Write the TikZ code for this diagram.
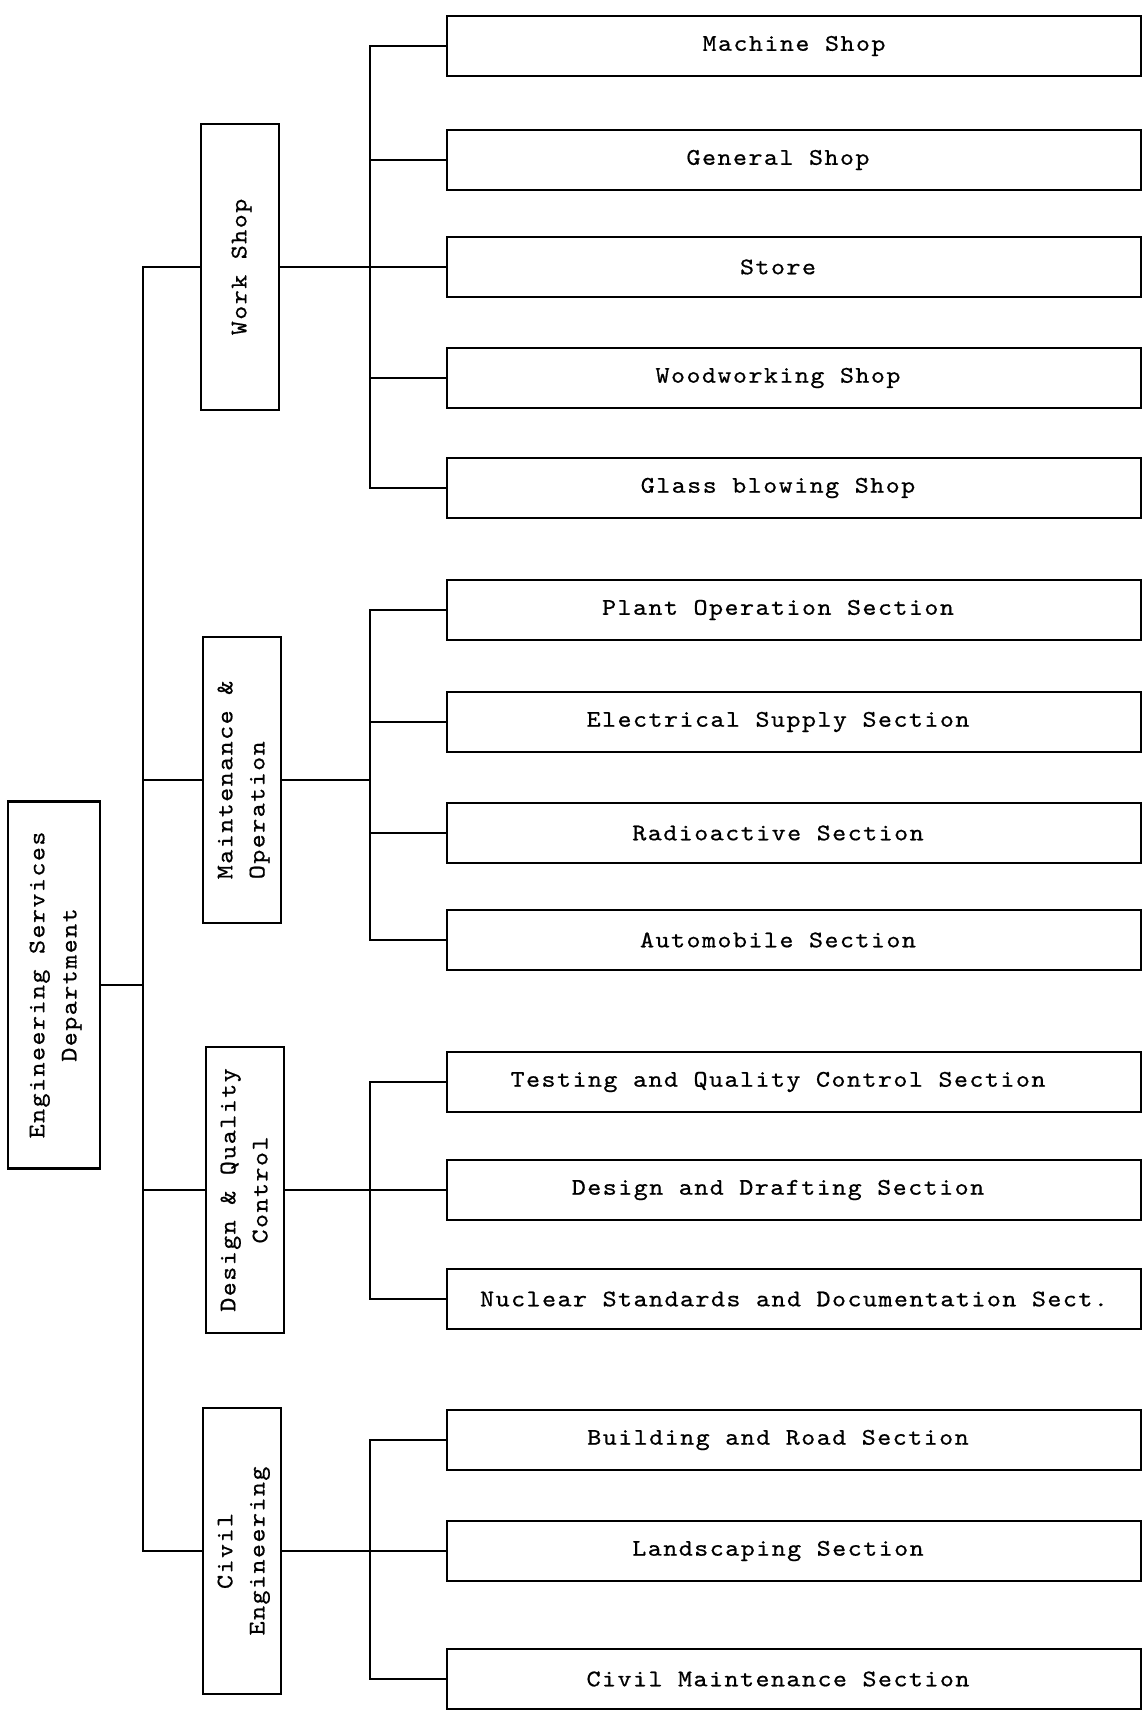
\documentclass[tikz,border=0pt]{standalone}
\usepackage{fontspec}
\setmonofont{lmmono10-regular.otf}[FakeStretch=1.12,FakeBold=0.6,LetterSpace=6]
\newcommand{\vlines}[2][c]{\rotatebox{90}{\begin{tabular}{@{}#1@{}}#2\end{tabular}}}

\begin{document}
\begin{tikzpicture}[font=\fontsize{17}{22.8}\selectfont\ttfamily,
  box/.style={draw,line width=1.5pt,inner sep=0pt},
  dept/.style={box,minimum width=2.3cm,minimum height=9.175cm},
  unit/.style={box,minimum width=1.95cm,minimum height=7.15cm},
  sect/.style={box,minimum width=17.35cm,minimum height=1.5cm,execute at end node=\hspace{0.8cm}},
  sectc/.style={box,minimum width=17.35cm,minimum height=1.5cm},
  link/.style={line width=1.1pt}]
\useasboundingbox[fill=white] (0,0) rectangle (28.675,42.775);
\coordinate (t1) at (3.575,0);
\coordinate (t2) at (9.25,0);

\node[dept] (esd) at (1.35,18.15) {\vlines{Engineering Services\\Department}};
\node[unit] (ws) at (6.0,36.1) {\vlines{Work Shop}};
\node[unit] (mo) at (6.05,23.275) {\vlines[l]{Maintenance \&\\Operation}};
\node[unit] (dq) at (6.125,13.025) {\vlines{Design \& Quality\\Control}};
\node[unit] (ce) at (6.05,4.0) {\vlines{Civil\\Engineering}};

\node[sectc] (ms) at (19.85,41.625) {Machine Shop};
\node[sect] (gs) at (19.85,38.775) {General Shop};
\node[sect] (st) at (19.85,36.1) {Store};
\node[sect] (wws) at (19.85,33.325) {Woodworking Shop};
\node[sect] (gbs) at (19.85,30.575) {Glass blowing Shop};
\node[sect] (po) at (19.85,27.525) {Plant Operation Section};
\node[sect] (es) at (19.85,24.725) {Electrical Supply Section};
\node[sect] (ra) at (19.85,21.95) {Radioactive Section};
\node[sect] (au) at (19.85,19.275) {Automobile Section};
\node[sect] (tq) at (19.85,15.725) {Testing and Quality Control Section};
\node[sect] (dd) at (19.85,13.025) {Design and Drafting Section};
\node[sectc] (ns) at (19.85,10.3) {Nuclear Standards and Documentation Sect.};
\node[sect] (br) at (19.85,6.775) {Building and Road Section};
\node[sect] (ls) at (19.85,4.0) {Landscaping Section};
\node[sect] (cm) at (19.85,0.8) {Civil Maintenance Section};

\draw[link] (esd.east) -- (esd.east -| t1);
\draw[link] (ws.west) -- (ws.west -| t1) -- (ce.west -| t1) -- (ce.west);
\draw[link] (mo.west -| t1) -- (mo.west);
\draw[link] (dq.west -| t1) -- (dq.west);

\draw[link] (ws.east) -- (st.west);
\draw[link] (ms.west) -- (ms.west -| t2) -- (gbs.west -| t2) -- (gbs.west);
\draw[link] (gs.west -| t2) -- (gs.west);
\draw[link] (wws.west -| t2) -- (wws.west);

\draw[link] (mo.east) -- (mo.east -| t2);
\draw[link] (po.west) -- (po.west -| t2) -- (au.west -| t2) -- (au.west);
\draw[link] (es.west -| t2) -- (es.west);
\draw[link] (ra.west -| t2) -- (ra.west);

\draw[link] (dq.east) -- (dd.west);
\draw[link] (tq.west) -- (tq.west -| t2) -- (ns.west -| t2) -- (ns.west);

\draw[link] (ce.east) -- (ls.west);
\draw[link] (br.west) -- (br.west -| t2) -- (cm.west -| t2) -- (cm.west);

\end{tikzpicture}
\end{document}
